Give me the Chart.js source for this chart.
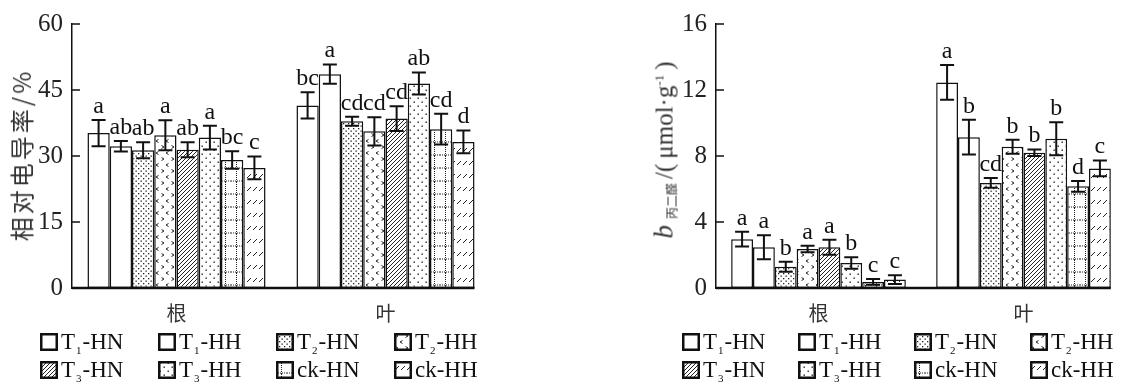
<!DOCTYPE html>
<html>
<head>
<meta charset="utf-8">
<script src="https://cdn.jsdelivr.net/npm/chart.js@4.4.0/dist/chart.umd.min.js"></script>
<style>
  body{margin:0;background:#fff;width:1131px;height:389px;overflow:hidden;position:relative;font-family:"Liberation Serif",serif;color:#111;}
  .wrap{position:absolute;top:0;height:330px;}
  .ytitle{position:absolute;white-space:nowrap;transform:translate(-50%,-50%) rotate(-90deg);color:#333;line-height:1;}
  .item{position:absolute;display:flex;align-items:center;white-space:nowrap;font-size:23px;height:24px;}
  .item canvas{width:18px;height:18px;margin-right:3px;}
  .item sub{font-size:11px;vertical-align:-5px;margin:0 1px;}
</style>
</head>
<body>
<div class="wrap" style="left:0;width:500px;"><canvas id="cond" width="500" height="330"></canvas></div>
<div class="wrap" style="left:640px;width:491px;"><canvas id="mda" width="491" height="330"></canvas></div>
<div class="ytitle" style="left:21px;top:155px;font-family:'Noto Sans CJK SC';font-size:24px;letter-spacing:3px;">相对电导率/%</div>
<div class="ytitle" style="left:664px;top:150px;font-size:25px;"><i style="font-size:27px">b</i><span style="font-family:'Noto Sans CJK SC';font-size:12px;margin:0 4px 0 6px;position:relative;top:4px;">丙二醛</span>/(&#8201;μmol·g<sup style="font-size:13px">-1</sup>&#8201;)</div>
<div id="legend"></div>
<script>
// 处理与器官
const categories = ['根', '叶'];
const treatments = ['T1-HN', 'T1-HH', 'T2-HN', 'T2-HH', 'T3-HN', 'T3-HH', 'ck-HN', 'ck-HH'];
const fills = ['none', 'none', 'dots', 'chev', 'hatch', 'sparse', 'grid', 'dash'];

// 相对电导率 (%) — 每行一个处理: [根, 叶]
const condMean = [
  [35.2, 41.5], [32.2, 48.6], [31.3, 37.9], [34.7, 35.6],
  [31.4, 38.5], [34.2, 46.5], [29.1, 36.1], [27.3, 33.2]
];
const condErr = [
  [3.0, 3.0], [1.2, 2.2], [1.8, 1.0], [3.4, 3.2],
  [1.7, 2.8], [2.7, 2.5], [2.0, 3.5], [2.6, 2.6]
];
const condLetters = [
  ['a', 'bc'], ['ab', 'a'], ['ab', 'cd'], ['a', 'cd'],
  ['ab', 'cd'], ['a', 'ab'], ['bc', 'cd'], ['c', 'd']
];
const condTicks = [0, 15, 30, 45, 60];

// 丙二醛含量 (μmol·g-1)
const mdaMean = [
  [2.96, 12.46], [2.47, 9.14], [1.29, 6.37], [2.36, 8.56],
  [2.47, 8.20], [1.52, 9.04], [0.37, 6.16], [0.51, 7.25]
];
const mdaErr = [
  [0.45, 1.05], [0.73, 1.05], [0.30, 0.30], [0.20, 0.42],
  [0.45, 0.20], [0.35, 1.00], [0.17, 0.33], [0.27, 0.48]
];
const mdaLetters = [
  ['a', 'a'], ['a', 'b'], ['b', 'cd'], ['a', 'b'],
  ['a', 'b'], ['b', 'b'], ['c', 'd'], ['c', 'c']
];
const mdaTicks = [0, 4, 8, 12, 16];

// 填充图案
function makeTile(kind){
  const c = document.createElement('canvas');
  const sizes = {none:[4,4], dots:[5,5], chev:[10,12], hatch:[4,4], sparse:[8,8], grid:[11,13], dash:[6,13]};
  const [w,h] = sizes[kind];
  c.width = w; c.height = h;
  const g = c.getContext('2d');
  g.fillStyle = '#fff'; g.fillRect(0,0,w,h);
  g.fillStyle = '#222'; g.strokeStyle = '#222'; g.lineWidth = 1;
  if(kind === 'dots'){
    g.fillRect(0.5,0.5,1.3,1.3); g.fillRect(3,3,1.3,1.3);
  } else if(kind === 'sparse'){
    g.fillRect(1.5,1.5,1.4,1.4); g.fillRect(5.5,5.5,1.4,1.4);
  } else if(kind === 'hatch'){
    g.beginPath();
    g.moveTo(0,4); g.lineTo(4,0);
    g.moveTo(-1,1); g.lineTo(1,-1);
    g.moveTo(3,5); g.lineTo(5,3);
    g.stroke();
  } else if(kind === 'chev'){
    g.beginPath();
    g.moveTo(1.5,1.5); g.lineTo(4,3); g.lineTo(1.5,4.5);
    g.moveTo(8.5,7.5); g.lineTo(6,9); g.lineTo(8.5,10.5);
    g.stroke();
  } else if(kind === 'grid'){
    for(let x=0; x<w; x+=2) g.fillRect(x,11.5,1,1);
    for(let y=0; y<h; y+=2) g.fillRect(5,y,1,1);
  } else if(kind === 'dash'){
    g.beginPath(); g.moveTo(1,9); g.lineTo(5,5); g.stroke();
  }
  return c;
}
function makeFill(kind){
  if(kind === 'none') return '#fff';
  const tile = makeTile(kind);
  return tile.getContext('2d').createPattern(tile, 'repeat');
}

// 误差线、显著性字母、坐标轴
const barExtras = {
  id: 'barExtras',
  afterDatasetsDraw(chart){
    const ctx = chart.ctx, y = chart.scales.y, area = chart.chartArea;
    let rightEdge = area.left;
    ctx.save();
    ctx.strokeStyle = '#111'; ctx.fillStyle = '#111'; ctx.lineWidth = 2;
    ctx.font = '24px "Liberation Serif"'; ctx.textAlign = 'center'; ctx.textBaseline = 'alphabetic';
    chart.data.datasets.forEach((ds, i) => {
      chart.getDatasetMeta(i).data.forEach((bar, j) => {
        const v = ds.data[j], e = ds.errs[j];
        const yT = y.getPixelForValue(v + e), yB = y.getPixelForValue(v - e);
        ctx.beginPath();
        ctx.moveTo(bar.x, yT); ctx.lineTo(bar.x, yB);
        ctx.moveTo(bar.x - 7, yT); ctx.lineTo(bar.x + 7, yT);
        ctx.moveTo(bar.x - 7, yB); ctx.lineTo(bar.x + 7, yB);
        ctx.stroke();
        ctx.fillText(ds.letters[j], bar.x, yT - 7);
        rightEdge = Math.max(rightEdge, bar.x + bar.width / 2);
      });
    });
    // x 轴线只画到最后一根柱子
    ctx.lineWidth = 2.5;
    ctx.beginPath(); ctx.moveTo(area.left, area.bottom); ctx.lineTo(rightEdge, area.bottom); ctx.stroke();
    // y 轴朝内的刻度
    ctx.lineWidth = 1.5;
    y.ticks.forEach(t => {
      const py = y.getPixelForValue(t.value);
      ctx.beginPath(); ctx.moveTo(area.left, py); ctx.lineTo(area.left + 8, py); ctx.stroke();
    });
    ctx.restore();
  }
};

function buildChart(id, means, errs, letters, ticks, axisWidth, padRight){
  const datasets = treatments.map((t, i) => ({
    label: t,
    data: means[i].map(r => r),
    errs: errs[i],
    letters: letters[i],
    backgroundColor: makeFill(fills[i]),
    borderColor: '#111',
    borderWidth: 1.5,
    borderSkipped: false,
    categoryPercentage: 0.852,
    barPercentage: 1.0
  }));
  return new Chart(document.getElementById(id), {
    type: 'bar',
    data: { labels: categories, datasets },
    options: {
      responsive: false,
      animation: false,
      devicePixelRatio: 1,
      layout: { padding: { top: 15, right: padRight, left: 0, bottom: 0 } },
      plugins: { legend: { display: false }, tooltip: { enabled: false } },
      scales: {
        x: {
          grid: { display: false, drawTicks: false },
          border: { display: false },
          ticks: { font: { family: '"Noto Sans CJK SC"', size: 20 }, color: '#333', padding: 13 },
          afterFit: s => { s.height = 42; }
        },
        y: {
          min: ticks[0], max: ticks[ticks.length - 1],
          afterBuildTicks: s => { s.ticks = ticks.map(v => ({ value: v })); },
          grid: { display: false, drawTicks: false },
          border: { display: true, color: '#111', width: 1.5 },
          ticks: { font: { family: '"Liberation Serif"', size: 25 }, color: '#222', padding: 9 },
          afterFit: s => { s.width = axisWidth; }
        }
      }
    },
    plugins: [barExtras]
  });
}

buildChart('cond', condMean, condErr, condLetters, condTicks, 72, 10);
buildChart('mda', mdaMean, mdaErr, mdaLetters, mdaTicks, 76, 5);

// 图例 (两行四列)
function legendLabel(t){
  const m = t.match(/^T(\d)-(.*)$/);
  return m ? 'T<sub>' + m[1] + '</sub>-' + m[2] : t;
}
function drawLegend(lefts){
  const box = document.getElementById('legend');
  treatments.forEach((t, i) => {
    const item = document.createElement('div');
    item.className = 'item';
    item.style.left = lefts[i % 4] + 'px';
    item.style.top = (i < 4 ? 330 : 358) + 'px';
    const sw = document.createElement('canvas');
    sw.width = 18; sw.height = 18;
    const g = sw.getContext('2d');
    g.fillStyle = makeFill(fills[i]); g.fillRect(0, 0, 18, 18);
    g.strokeStyle = '#111'; g.lineWidth = 2.5; g.strokeRect(1.25, 1.25, 15.5, 15.5);
    item.appendChild(sw);
    const span = document.createElement('span');
    span.innerHTML = legendLabel(t);
    item.appendChild(span);
    box.appendChild(item);
  });
}
drawLegend([40, 158, 276, 394]);
drawLegend([682, 798, 914, 1030]);
</script>
</body>
</html>
